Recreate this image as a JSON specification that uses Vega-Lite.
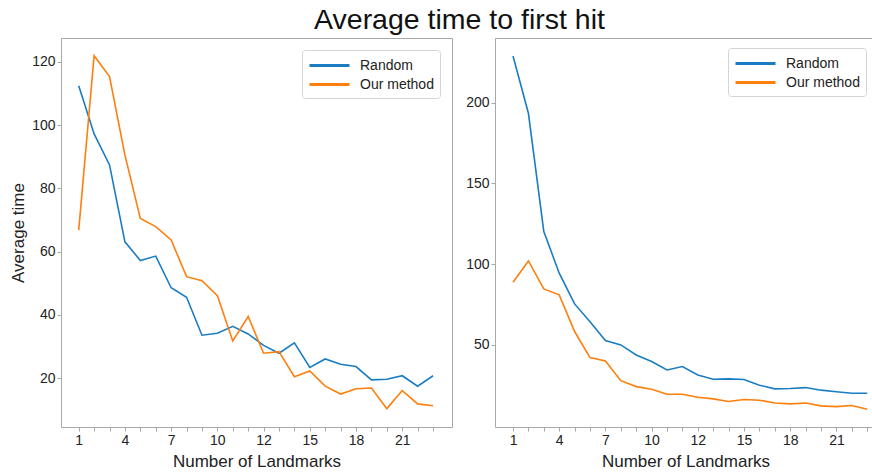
{
  "$schema": "https://vega.github.io/schema/vega-lite/v6.json",
  "padding": {"left": 8, "top": 6, "right": 0, "bottom": 0},
  "title": {"text": "Average time to first hit", "fontSize": 28.5, "font": "Liberation Sans", "fontWeight": "normal", "color": "#111", "anchor": "middle", "offset": 3, "dx": 17},
  "datasets": {
    "left": [
      {"landmarks": 1, "series": "Random", "time": 112.4},
      {"landmarks": 2, "series": "Random", "time": 97.2},
      {"landmarks": 3, "series": "Random", "time": 87.4},
      {"landmarks": 4, "series": "Random", "time": 63.1},
      {"landmarks": 5, "series": "Random", "time": 57.2},
      {"landmarks": 6, "series": "Random", "time": 58.6},
      {"landmarks": 7, "series": "Random", "time": 48.6},
      {"landmarks": 8, "series": "Random", "time": 45.6},
      {"landmarks": 9, "series": "Random", "time": 33.6},
      {"landmarks": 10, "series": "Random", "time": 34.2},
      {"landmarks": 11, "series": "Random", "time": 36.4},
      {"landmarks": 12, "series": "Random", "time": 34.0},
      {"landmarks": 13, "series": "Random", "time": 30.4},
      {"landmarks": 14, "series": "Random", "time": 27.9},
      {"landmarks": 15, "series": "Random", "time": 31.2},
      {"landmarks": 16, "series": "Random", "time": 23.4},
      {"landmarks": 17, "series": "Random", "time": 26.1},
      {"landmarks": 18, "series": "Random", "time": 24.4},
      {"landmarks": 19, "series": "Random", "time": 23.7},
      {"landmarks": 20, "series": "Random", "time": 19.5},
      {"landmarks": 21, "series": "Random", "time": 19.7},
      {"landmarks": 22, "series": "Random", "time": 20.8},
      {"landmarks": 23, "series": "Random", "time": 17.5},
      {"landmarks": 24, "series": "Random", "time": 20.8},
      {"landmarks": 1, "series": "Our method", "time": 66.8},
      {"landmarks": 2, "series": "Our method", "time": 121.9},
      {"landmarks": 3, "series": "Our method", "time": 115.3},
      {"landmarks": 4, "series": "Our method", "time": 90.5},
      {"landmarks": 5, "series": "Our method", "time": 70.5},
      {"landmarks": 6, "series": "Our method", "time": 67.9},
      {"landmarks": 7, "series": "Our method", "time": 63.7},
      {"landmarks": 8, "series": "Our method", "time": 52.1},
      {"landmarks": 9, "series": "Our method", "time": 50.8},
      {"landmarks": 10, "series": "Our method", "time": 46.1},
      {"landmarks": 11, "series": "Our method", "time": 31.8},
      {"landmarks": 12, "series": "Our method", "time": 39.5},
      {"landmarks": 13, "series": "Our method", "time": 27.9},
      {"landmarks": 14, "series": "Our method", "time": 28.4},
      {"landmarks": 15, "series": "Our method", "time": 20.5},
      {"landmarks": 16, "series": "Our method", "time": 22.3},
      {"landmarks": 17, "series": "Our method", "time": 17.5},
      {"landmarks": 18, "series": "Our method", "time": 15.0},
      {"landmarks": 19, "series": "Our method", "time": 16.7},
      {"landmarks": 20, "series": "Our method", "time": 16.9},
      {"landmarks": 21, "series": "Our method", "time": 10.4},
      {"landmarks": 22, "series": "Our method", "time": 16.1},
      {"landmarks": 23, "series": "Our method", "time": 11.9},
      {"landmarks": 24, "series": "Our method", "time": 11.3}
    ],
    "right": [
      {"landmarks": 1, "series": "Random", "time": 228.9},
      {"landmarks": 2, "series": "Random", "time": 193.4},
      {"landmarks": 3, "series": "Random", "time": 120.2},
      {"landmarks": 4, "series": "Random", "time": 94.4},
      {"landmarks": 5, "series": "Random", "time": 75.4},
      {"landmarks": 6, "series": "Random", "time": 64.4},
      {"landmarks": 7, "series": "Random", "time": 52.7},
      {"landmarks": 8, "series": "Random", "time": 50.0},
      {"landmarks": 9, "series": "Random", "time": 43.8},
      {"landmarks": 10, "series": "Random", "time": 39.7},
      {"landmarks": 11, "series": "Random", "time": 34.5},
      {"landmarks": 12, "series": "Random", "time": 36.6},
      {"landmarks": 13, "series": "Random", "time": 31.4},
      {"landmarks": 14, "series": "Random", "time": 28.8},
      {"landmarks": 15, "series": "Random", "time": 29.0},
      {"landmarks": 16, "series": "Random", "time": 28.6},
      {"landmarks": 17, "series": "Random", "time": 25.1},
      {"landmarks": 18, "series": "Random", "time": 22.8},
      {"landmarks": 19, "series": "Random", "time": 23.0},
      {"landmarks": 20, "series": "Random", "time": 23.6},
      {"landmarks": 21, "series": "Random", "time": 22.0},
      {"landmarks": 22, "series": "Random", "time": 21.0},
      {"landmarks": 23, "series": "Random", "time": 20.1},
      {"landmarks": 24, "series": "Random", "time": 20.1},
      {"landmarks": 1, "series": "Our method", "time": 88.8},
      {"landmarks": 2, "series": "Our method", "time": 102.0},
      {"landmarks": 3, "series": "Our method", "time": 84.7},
      {"landmarks": 4, "series": "Our method", "time": 81.0},
      {"landmarks": 5, "series": "Our method", "time": 58.3},
      {"landmarks": 6, "series": "Our method", "time": 42.2},
      {"landmarks": 7, "series": "Our method", "time": 40.1},
      {"landmarks": 8, "series": "Our method", "time": 27.9},
      {"landmarks": 9, "series": "Our method", "time": 24.2},
      {"landmarks": 10, "series": "Our method", "time": 22.6},
      {"landmarks": 11, "series": "Our method", "time": 19.5},
      {"landmarks": 12, "series": "Our method", "time": 19.5},
      {"landmarks": 13, "series": "Our method", "time": 17.6},
      {"landmarks": 14, "series": "Our method", "time": 16.6},
      {"landmarks": 15, "series": "Our method", "time": 15.0},
      {"landmarks": 16, "series": "Our method", "time": 16.2},
      {"landmarks": 17, "series": "Our method", "time": 15.8},
      {"landmarks": 18, "series": "Our method", "time": 14.1},
      {"landmarks": 19, "series": "Our method", "time": 13.5},
      {"landmarks": 20, "series": "Our method", "time": 14.1},
      {"landmarks": 21, "series": "Our method", "time": 12.3},
      {"landmarks": 22, "series": "Our method", "time": 11.8},
      {"landmarks": 23, "series": "Our method", "time": 12.5},
      {"landmarks": 24, "series": "Our method", "time": 10.2}
    ]
  },
  "spacing": 11,
  "resolve": {"scale": {"color": "independent", "x": "independent", "y": "independent"}, "legend": {"color": "independent"}},
  "hconcat": [
    {
      "width": 391,
      "height": 389,
      "data": {"name": "left"},
      "mark": {"type": "line", "strokeWidth": 1.6},
      "encoding": {
        "x": {"field": "landmarks", "type": "quantitative", "title": "Number of Landmarks",
          "scale": {"domain": [-0.15, 25.23], "nice": false, "zero": false},
          "axis": {"values": [1,2,3,4,5,6,7,8,9,10,11,12,13,14,15,16,17,18,19,20,21,22,23,24], "labelExpr": "datum.value == 1 ? '1' : datum.value == 4 ? '4' : datum.value == 7 ? '7' : datum.value == 10 ? '10' : datum.value == 13 ? '12' : datum.value == 16 ? '15' : datum.value == 19 ? '18' : datum.value == 22 ? '21' : ''"}},
        "y": {"field": "time", "type": "quantitative", "title": "Average time",
          "scale": {"domain": [4.6, 127.5], "nice": false, "zero": false},
          "axis": {"values": [20, 40, 60, 80, 100, 120], "minExtent": 30, "maxExtent": 30, "titlePadding": 4}},
        "color": {"field": "series", "type": "nominal", "sort": ["Random", "Our method"],
          "scale": {"domain": ["Random", "Our method"], "range": ["#1a7dc3", "#ff7f0e"]},
          "legend": {"title": null, "orient": "top-right", "offset": 12}}
      }
    },
    {
      "width": 381,
      "height": 389,
      "data": {"name": "right"},
      "mark": {"type": "line", "strokeWidth": 1.6},
      "encoding": {
        "x": {"field": "landmarks", "type": "quantitative", "title": "Number of Landmarks",
          "scale": {"domain": [-0.17, 24.57], "nice": false, "zero": false},
          "axis": {"values": [1,2,3,4,5,6,7,8,9,10,11,12,13,14,15,16,17,18,19,20,21,22,23,24], "labelExpr": "datum.value == 1 ? '1' : datum.value == 4 ? '4' : datum.value == 7 ? '7' : datum.value == 10 ? '10' : datum.value == 13 ? '12' : datum.value == 16 ? '15' : datum.value == 19 ? '18' : datum.value == 22 ? '21' : ''"}},
        "y": {"field": "time", "type": "quantitative", "title": null,
          "scale": {"domain": [-0.8, 240], "nice": false, "zero": false},
          "axis": {"values": [50, 100, 150, 200], "minExtent": 30, "maxExtent": 30}},
        "color": {"field": "series", "type": "nominal", "sort": ["Random", "Our method"],
          "scale": {"domain": ["Random", "Our method"], "range": ["#1a7dc3", "#ff7f0e"]},
          "legend": {"title": null, "orient": "top-right", "offset": 10}}
      }
    }
  ],
  "config": {
    "view": {"stroke": "#a8a8a8", "strokeWidth": 1},
    "axis": {"grid": false, "domain": false, "tickColor": "#a8a8a8", "tickSize": 4, "labelFont": "Liberation Sans", "labelFontSize": 14, "labelColor": "#222", "labelPadding": 2, "titleFont": "Liberation Sans", "titleFontSize": 17, "titleFontWeight": "normal", "titleColor": "#222", "titlePadding": 3, "labelFlush": false, "labelOverlap": false},
    "axisX": {"titlePadding": 6},
    "legend": {"symbolType": "M-2.5,0H2.5", "symbolSize": 256, "symbolOffset": 12, "symbolStrokeWidth": 3, "labelFont": "Liberation Sans", "labelFontSize": 14, "labelColor": "#222", "labelOffset": 21, "strokeColor": "#d4d4d4", "fillColor": "white", "cornerRadius": 3, "padding": 6, "rowPadding": 2}
  }
}
